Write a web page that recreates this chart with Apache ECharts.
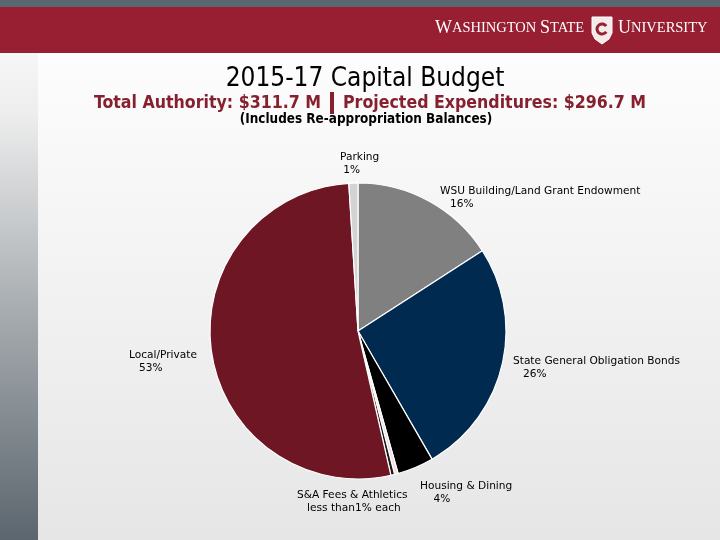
<!DOCTYPE html>
<html><head><meta charset="utf-8">
<script src="https://cdn.jsdelivr.net/npm/echarts@6/dist/echarts.min.js"></script>
<style>html,body{margin:0;padding:0;}#c{width:720px;height:540px;}</style>
</head><body><div id="c"></div>
<script>
const categories = ['WSU Building/Land Grant Endowment','State General Obligation Bonds','Housing & Dining','S&A Fees','Athletics','Local/Private','Parking'];
const values = [16, 26, 4, 0.4, 0.4, 53, 1];
const pctLabels = ['16%','26%','4%','','','53%','1%'];
const colors = ['#808080','#002a4f','#000000','#f2dde0','#1a1a1a','#6f1624','#d3d3d3'];
// label text (S&A + Athletics share one label)
const labelTexts = [
  'WSU Building/Land Grant Endowment\n   ' + pctLabels[0],
  'State General Obligation Bonds\n   ' + pctLabels[1],
  'Housing & Dining\n    ' + pctLabels[2],
  'S&A Fees & Athletics\n   less than1% each',
  '',
  'Local/Private\n   ' + pctLabels[5],
  'Parking\n ' + pctLabels[6]
];
const labelPos = [[440,184],[513,354],[420,479],[297,488],[0,0],[129,348],[340,150]];

const chart = echarts.init(document.getElementById('c'), null, {renderer:'canvas'});
const fontLbl = '"DejaVu Sans", Verdana, sans-serif';
const serif = '"Liberation Serif", serif';
const cond = '"DejaVu Sans Condensed", "Noto Sans", sans-serif';
chart.setOption({
  animation:false,
  backgroundColor:'#ffffff',
  graphic:[
    {type:'rect', z:-10, shape:{x:0,y:53,width:720,height:487}, style:{fill:new echarts.graphic.LinearGradient(0,0,0,1,[{offset:0,color:'#fdfdfd'},{offset:1,color:'#e6e6e6'}])}},
    {type:'rect', z:-9, shape:{x:0,y:53,width:38,height:487}, style:{fill:new echarts.graphic.LinearGradient(0,0,0,1,[{offset:0,color:'#f6f6f6'},{offset:0.12,color:'#eeeeee'},{offset:0.55,color:'#a4a9ad'},{offset:1,color:'#5c666e'}])}},
    {type:'rect', z:-8, shape:{x:0,y:0,width:720,height:7}, style:{fill:'#5a6670'}},
    {type:'rect', z:-8, shape:{x:0,y:7,width:720,height:46}, style:{fill:'#981e32'}},
    {type:'text', z:5, x:435, y:28, style:{
      text:'{b|W}{s|ASHINGTON }{b|S}{s|TATE}', fill:'#fff', verticalAlign:'middle', align:'left',
      rich:{b:{fontFamily:serif, fontSize:18, fill:'#fff'}, s:{fontFamily:serif, fontSize:14.5, fill:'#fff'}}
    }},
    {type:'polygon', z:5, shape:{points:[[592,17],[612,17],[612,33],[609,39],[602,44],[595,39],[592,33]]}, style:{fill:'#f3eaea', stroke:'#ffffff', lineWidth:1}},
    {type:'arc', z:6, shape:{cx:602,cy:29,r:5,startAngle:-0.6,endAngle:-5.7,clockwise:false}, style:{stroke:'#981e32', lineWidth:3, fill:null}},
    {type:'text', z:5, x:618, y:28, style:{
      text:'{b|U}{s|NIVERSITY}', fill:'#fff', verticalAlign:'middle', align:'left',
      rich:{b:{fontFamily:serif, fontSize:18, fill:'#fff'}, s:{fontFamily:serif, fontSize:14.5, fill:'#fff'}}
    }},
    {type:'text', z:5, x:365, y:79, style:{text:'2015-17 Capital Budget', fill:'#000', font:'26px ' + cond, align:'center', verticalAlign:'middle'}},
    {type:'text', z:5, x:321, y:103, style:{text:'Total Authority: $311.7 M', fill:'#86202f', font:'bold 17.6px ' + cond, align:'right', verticalAlign:'middle'}},
    {type:'rect', z:5, shape:{x:330,y:92,width:4,height:22}, style:{fill:'#86202f'}},
    {type:'text', z:5, x:343, y:103, style:{text:'Projected Expenditures: $296.7 M', fill:'#86202f', font:'bold 17.6px ' + cond, align:'left', verticalAlign:'middle'}},
    {type:'text', z:5, x:366, y:120, style:{text:'(Includes Re-appropriation Balances)', fill:'#000', font:'bold 13.4px ' + cond, align:'center', verticalAlign:'middle'}}
  ],
  series:[{
    type:'pie',
    center:[358,331],
    radius:[0,148],
    startAngle:90,
    clockwise:true,
    avoidLabelOverlap:false,
    itemStyle:{borderColor:'#ffffff', borderWidth:1.2},
    label:{show:true, position:'outside', fontFamily:fontLbl, fontSize:10.6, color:'#000', lineHeight:13.5,
      formatter:p=>labelTexts[p.dataIndex]},
    labelLine:{show:false},
    labelLayout:function(p){
      const pos = labelPos[p.dataIndex];
      return {x:pos[0], y:pos[1], align:'left', verticalAlign:'top'};
    },
    data:categories.map((c,i)=>({name:c, value:values[i], itemStyle:{color:colors[i]}, label:{show:labelTexts[i]!==''}}))
  }]
});
</script></body></html>
